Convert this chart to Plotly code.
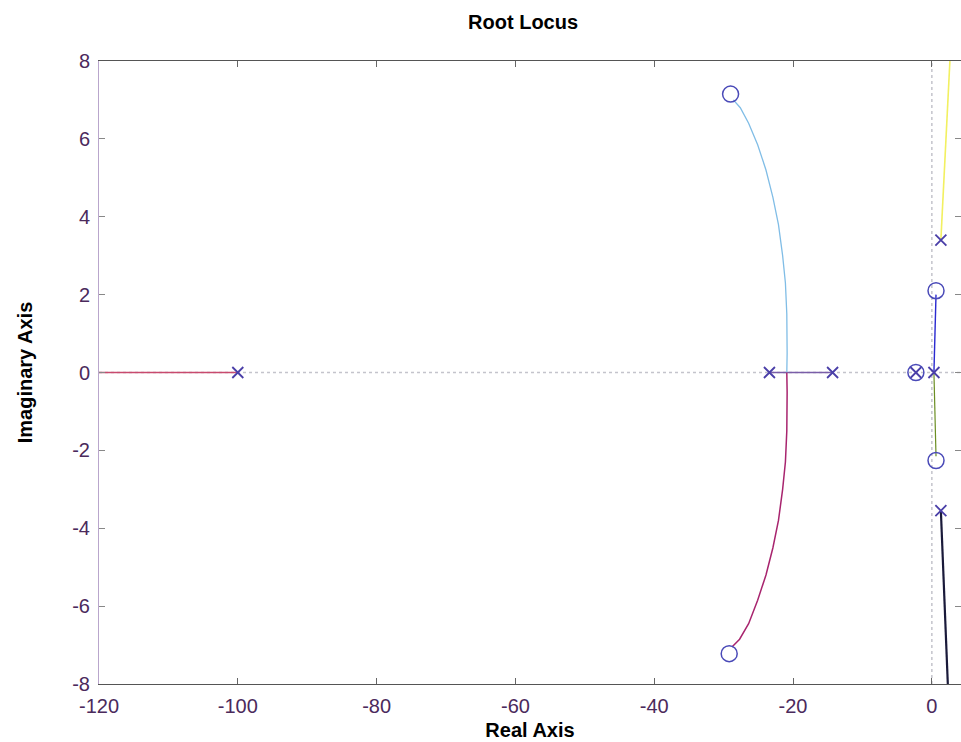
import plotly.graph_objects as go

# Poles (x) and zeros (o)
poles_re = [-100.0, -23.4, -14.3, 0.3, 1.3, 1.3, -2.3]
poles_im = [0.0, 0.0, 0.0, 0.0, 3.4, -3.55, 0.0]
zeros_re = [-29.0, -29.2, 0.6, 0.6, -2.3]
zeros_im = [7.15, -7.22, 2.1, -2.26, 0.0]

# Locus branches
br_left_x = [-120.0, -100.0]
br_left_y = [0.0, 0.0]
br_mid_x = [-23.4, -14.3]
br_mid_y = [0.0, 0.0]
br_up_x = [-20.9, -20.85, -20.9, -21.1, -21.5, -22.1, -22.9, -23.9, -25.1, -26.4, -27.6, -28.6]
br_up_y = [0.0, 0.5, 1.5, 2.3, 3.0, 3.8, 4.5, 5.2, 5.85, 6.4, 6.8, 7.0]
br_dn_x = [-20.9, -20.85, -20.9, -21.1, -21.5, -22.1, -22.9, -23.9, -25.1, -26.4, -27.7, -28.8]
br_dn_y = [0.0, -0.5, -1.5, -2.3, -3.0, -3.8, -4.5, -5.2, -5.85, -6.45, -6.85, -7.05]
br_yel_x = [1.3, 2.6]
br_yel_y = [3.4, 8.0]
br_blk_x = [1.3, 2.3]
br_blk_y = [-3.55, -8.0]
br_blue_x = [0.3, 0.6]
br_blue_y = [0.0, 2.0]
br_grn_x = [0.3, 0.6]
br_grn_y = [0.0, -2.15]

x_range = [-120, 4.2]
y_range = [-8, 8]
x_ticks = [-120, -100, -80, -60, -40, -20, 0]
x_ticktext = ["-120", "-100", "-80", "-60", "-40", "-20", "0"]
y_ticks = [-8, -6, -4, -2, 0, 2, 4, 6, 8]
y_ticktext = ["-8", "-6", "-4", "-2", "0", "2", "4", "6", "8"]

FONT = "Liberation Sans, Arial, sans-serif"

fig = go.Figure()

# dotted reference axes
fig.add_trace(go.Scatter(x=x_range, y=[0, 0], mode="lines",
                         line=dict(color="#c4c4cc", width=1.5, dash="dot"),
                         hoverinfo="skip", showlegend=False))
fig.add_trace(go.Scatter(x=[0, 0], y=y_range, mode="lines",
                         line=dict(color="#c4c4cc", width=1.5, dash="dot"),
                         hoverinfo="skip", showlegend=False))

branches = [
    (br_left_x, br_left_y, "#c84a6e", 1.3),
    (br_mid_x, br_mid_y, "#7a5ea8", 1.3),
    (br_up_x, br_up_y, "#80bde6", 1.3),
    (br_dn_x, br_dn_y, "#a8246e", 1.5),
    (br_yel_x, br_yel_y, "#f2f060", 1.6),
    (br_blk_x, br_blk_y, "#1a1a3a", 2.2),
    (br_blue_x, br_blue_y, "#2a2ad0", 1.4),
    (br_grn_x, br_grn_y, "#6b8e23", 1.2),
]
for bx, by, col, w in branches:
    fig.add_trace(go.Scatter(x=bx, y=by, mode="lines", line=dict(color=col, width=w),
                             showlegend=False))

fig.add_trace(go.Scatter(x=poles_re, y=poles_im, mode="markers",
                         marker=dict(symbol="x-thin", size=11, color="#4a3fa8",
                                     line=dict(width=1.8, color="#4a3fa8")),
                         showlegend=False))
fig.add_trace(go.Scatter(x=zeros_re, y=zeros_im, mode="markers",
                         marker=dict(symbol="circle-open", size=16, color="#4a4ab8",
                                     line=dict(width=1.5, color="#4a4ab8")),
                         showlegend=False))

tick_font = dict(family=FONT, size=20, color="#4b2a5c")
title_font = dict(family=FONT, size=20, color="black")
fig.update_layout(
    width=961, height=742,
    margin=dict(l=99, r=0, t=61, b=58),
    paper_bgcolor="white", plot_bgcolor="white",
    title=dict(text="<b>Root Locus</b>", x=0.492, xref="paper", xanchor="center",
               y=0.97, yanchor="middle", font=title_font),
    xaxis=dict(range=x_range, tickvals=x_ticks, ticktext=x_ticktext,
               ticks="inside", ticklen=6, ticklabelstandoff=4,
               tickcolor="#666", showgrid=False, zeroline=False,
               showline=True, linecolor="#555", linewidth=1, mirror="ticks",
               tickfont=tick_font,
               title=dict(text="<b>Real Axis</b>", standoff=6, font=title_font)),
    yaxis=dict(range=y_range, tickvals=y_ticks, ticktext=y_ticktext,
               ticks="inside", ticklen=6, ticklabelstandoff=4,
               tickcolor="#888", showgrid=False, zeroline=False,
               showline=True, linecolor="#b9a6cc", linewidth=1, mirror="ticks",
               tickfont=tick_font,
               title=dict(text="<b>Imaginary Axis</b>", standoff=34, font=title_font)),
)

fig.write_html("out.html")
